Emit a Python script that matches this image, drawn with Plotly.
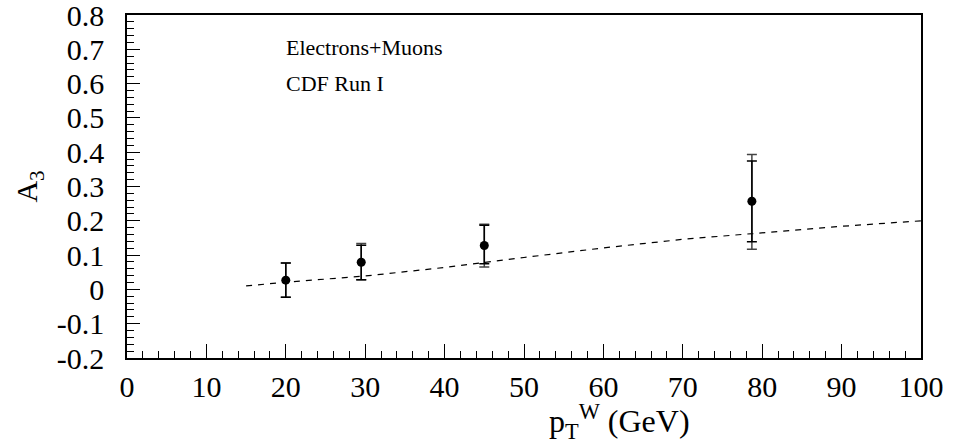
import plotly.graph_objects as go

# Data points (pT^W bins)
pt = [20.0, 29.5, 45.0, 78.7]
a3 = [0.027, 0.079, 0.128, 0.257]
stat_hi = [0.077, 0.129, 0.187, 0.374]
stat_lo = [-0.023, 0.028, 0.075, 0.139]
tot_hi = [0.077, 0.134, 0.190, 0.393]
tot_lo = [-0.023, 0.028, 0.065, 0.117]

# Theory prediction (dashed)
th_x = [15, 20, 30, 40, 50, 60, 70, 80, 90, 100]
th_y = [0.010, 0.021, 0.039, 0.064, 0.093, 0.121, 0.146, 0.166, 0.184, 0.200]

xticks = [0, 10, 20, 30, 40, 50, 60, 70, 80, 90, 100]
yticks = [-0.2, -0.1, 0, 0.1, 0.2, 0.3, 0.4, 0.5, 0.6, 0.7, 0.8]
ylabels = ["-0.2", "-0.1", "0", "0.1", "0.2", "0.3", "0.4", "0.5", "0.6", "0.7", "0.8"]

FONT = "Liberation Serif"

fig = go.Figure()

fig.add_trace(go.Scatter(
    x=th_x, y=th_y, mode="lines",
    line=dict(color="black", width=1.2, dash="6px,6px"),
    hoverinfo="skip", showlegend=False))

# total errors
fig.add_trace(go.Scatter(
    x=pt, y=a3, mode="markers",
    marker=dict(size=1, color="rgba(0,0,0,0)"),
    error_y=dict(type="data", symmetric=False,
                 array=[h - v for h, v in zip(tot_hi, a3)],
                 arrayminus=[v - l for l, v in zip(tot_lo, a3)],
                 color="#444", thickness=1.5, width=5),
    showlegend=False))

# stat errors + points
fig.add_trace(go.Scatter(
    x=pt, y=a3, mode="markers",
    marker=dict(size=9, color="black", symbol="circle"),
    error_y=dict(type="data", symmetric=False,
                 array=[h - v for h, v in zip(stat_hi, a3)],
                 arrayminus=[v - l for l, v in zip(stat_lo, a3)],
                 color="black", thickness=1.5, width=5),
    showlegend=False))

fig.add_annotation(x=19.8, y=0.705, xref="x", yref="y", text="Electrons+Muons",
                   showarrow=False, xanchor="left", yanchor="middle",
                   font=dict(family=FONT, size=22, color="black"))
fig.add_annotation(x=19.8, y=0.600, xref="x", yref="y", text="CDF Run I",
                   showarrow=False, xanchor="left", yanchor="middle",
                   font=dict(family=FONT, size=22, color="black"))

# x-axis title (right-shifted as in the original)
fig.add_annotation(x=0.712, y=-0.185, xref="paper", yref="paper",
                   text="p<sub>T</sub><sup>W</sup> (GeV)",
                   showarrow=False, xanchor="right", yanchor="middle",
                   font=dict(family=FONT, size=32, color="black"))

fig.update_layout(
    width=964, height=444,
    margin=dict(l=127, r=43, t=15, b=86),
    paper_bgcolor="white", plot_bgcolor="white",
    font=dict(family=FONT, color="black", size=30),
)

fig.update_xaxes(
    range=[0, 100], tickvals=xticks, ticktext=[str(v) for v in xticks],
    ticks="inside", ticklen=14, tickwidth=1, tickcolor="black",
    minor=dict(dtick=2, ticks="inside", ticklen=7, tickcolor="black", tickwidth=1, showgrid=False),
    showline=True, linecolor="black", linewidth=1.5, mirror=True,
    showgrid=False, zeroline=False, automargin=False,
    tickfont=dict(family=FONT, size=30, color="black"),
    ticklabelstandoff=1, ticklabeloverflow="allow",
)
fig.update_yaxes(
    range=[-0.2, 0.8], tickvals=yticks, ticktext=ylabels,
    ticks="inside", ticklen=13, tickwidth=1, tickcolor="black",
    minor=dict(dtick=0.02, tick0=0, ticks="inside", ticklen=7, tickcolor="black", tickwidth=1, showgrid=False),
    showline=True, linecolor="black", linewidth=1.5, mirror=True,
    showgrid=False, zeroline=False, automargin=False,
    tickfont=dict(family=FONT, size=30, color="black"),
    ticklabelstandoff=15, ticklabeloverflow="allow",
    title=dict(text="A<sub>3</sub>", font=dict(family=FONT, size=30, color="black"),
               standoff=10),
)

fig.write_html("out.html")
